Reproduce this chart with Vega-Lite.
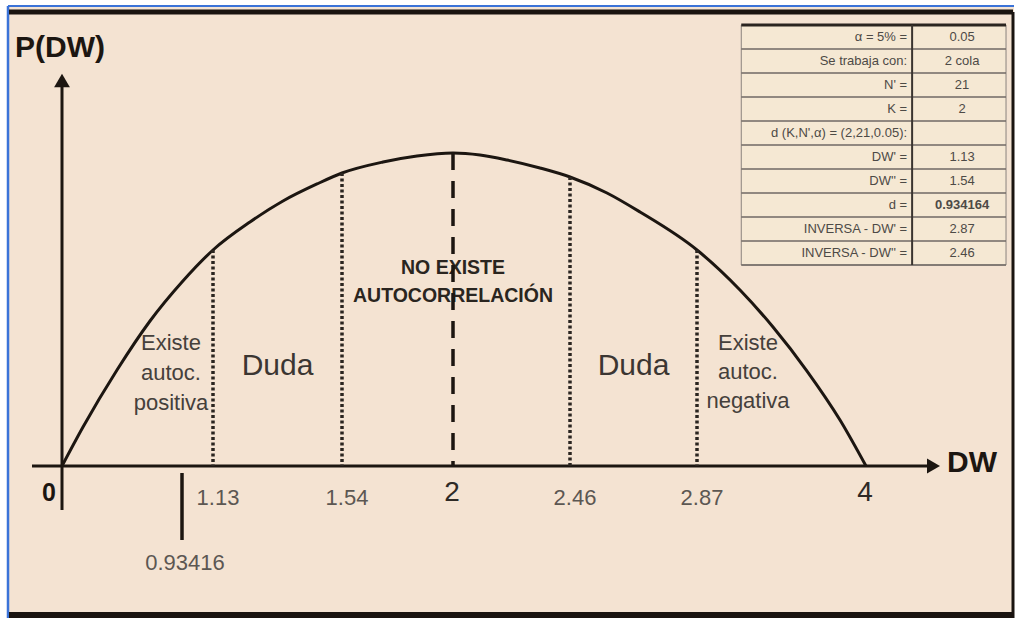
{
  "$schema": "https://vega.github.io/schema/vega-lite/v6.json",
  "width": 1017,
  "height": 621,
  "autosize": {"type": "fit", "contains": "padding"},
  "padding": 0,
  "background": "white",
  "config": {
    "view": {"stroke": null},
    "axis": {"disable": true},
    "legend": {"disable": true},
    "text": {"font": "Liberation Sans"}
  },
  "data": {"values": [{}]},
  "datasets": {
    "curve": [
      {"DW": 0, "P": 0},
      {"DW": 0.1635, "P": 0.1246},
      {"DW": 0.4282, "P": 0.3067},
      {"DW": 0.6851, "P": 0.4633},
      {"DW": 0.93416, "P": 0.5879},
      {"DW": 1.13, "P": 0.6901},
      {"DW": 1.2476, "P": 0.7796},
      {"DW": 1.3525, "P": 0.8466},
      {"DW": 1.4605, "P": 0.901},
      {"DW": 1.54, "P": 0.9361},
      {"DW": 1.7099, "P": 0.9712},
      {"DW": 1.8508, "P": 0.9904},
      {"DW": 2, "P": 1},
      {"DW": 2.1062, "P": 0.9936},
      {"DW": 2.2123, "P": 0.9776},
      {"DW": 2.342, "P": 0.9521},
      {"DW": 2.46, "P": 0.9233},
      {"DW": 2.5794, "P": 0.8722},
      {"DW": 2.686, "P": 0.8115},
      {"DW": 2.87, "P": 0.6901},
      {"DW": 3.1575, "P": 0.5623},
      {"DW": 3.3782, "P": 0.4441},
      {"DW": 3.6055, "P": 0.3035},
      {"DW": 3.8262, "P": 0.147},
      {"DW": 4, "P": 0}
    ],
    "bounds": [
      {"DW": 1.13, "P": 0.6901},
      {"DW": 1.54, "P": 0.9361},
      {"DW": 2.46, "P": 0.9233},
      {"DW": 2.87, "P": 0.6901}
    ],
    "center": [{"DW": 2, "P": 1}],
    "dval": [{"DW": 0.93416}],
    "big": [{"DW": 2}, {"DW": 4}],
    "origin": [{"DW": 0}],
    "table": [
      {"row": 1, "label": "α = 5% =", "value": "0.05"},
      {"row": 2, "label": "Se trabaja con:", "value": "2 cola"},
      {"row": 3, "label": "N' =", "value": "21"},
      {"row": 4, "label": "K =", "value": "2"},
      {"row": 5, "label": "d (K,N',α) = (2,21,0.05):", "value": ""},
      {"row": 6, "label": "DW' =", "value": "1.13"},
      {"row": 7, "label": "DW'' =", "value": "1.54"},
      {"row": 8, "label": "d =", "value": "0.934164"},
      {"row": 9, "label": "INVERSA - DW' =", "value": "2.87"},
      {"row": 10, "label": "INVERSA - DW'' =", "value": "2.46"}
    ]
  },
  "resolve": {"scale": {"x": "independent", "y": "independent"}},
  "layer": [
    {
      "layer": [
        {
          "mark": {"type": "rect", "fill": "#f4e3d2"},
          "encoding": {
            "x": {"datum": -0.4204, "type": "quantitative", "scale": {"type": "linear", "domain": [-0.48265, 0, 0.93416, 1.13, 1.54, 2, 2.46, 2.87, 4, 5.0096], "range": [0, 62, 182, 213, 342, 453, 570, 697, 866, 1017], "zero": false, "nice": false}},
            "x2": {"datum": 4.9896},
            "y": {"datum": 1.4696, "type": "quantitative", "scale": {"domain": [-0.4952, 1.4888], "zero": false, "nice": false}},
            "y2": {"datum": -0.4856}
          }
        },
        {
          "mark": {"type": "rule", "color": "#3b73d8", "strokeWidth": 2.5},
          "encoding": {
            "x": {"datum": -0.4204, "type": "quantitative"},
            "y": {"datum": 1.4696, "type": "quantitative"},
            "y2": {"datum": -0.4856}
          }
        },
        {
          "mark": {"type": "rule", "color": "#3b73d8", "strokeWidth": 2},
          "encoding": {
            "x": {"datum": -0.4204, "type": "quantitative"},
            "x2": {"datum": 4.9896},
            "y": {"datum": 1.4696, "type": "quantitative"}
          }
        },
        {
          "mark": {"type": "rule", "color": "#1a1410", "strokeWidth": 5},
          "encoding": {
            "x": {"datum": -0.4126, "type": "quantitative"},
            "x2": {"datum": 4.9829},
            "y": {"datum": 1.4505, "type": "quantitative"}
          }
        },
        {
          "mark": {"type": "rule", "color": "#1a1410", "strokeWidth": 6},
          "encoding": {
            "x": {"datum": -0.4126, "type": "quantitative"},
            "x2": {"datum": 4.9896},
            "y": {"datum": -0.476, "type": "quantitative"}
          }
        },
        {
          "mark": {"type": "rule", "color": "#1a1410", "strokeWidth": 3},
          "encoding": {
            "x": {"datum": 4.9829, "type": "quantitative"},
            "y": {"datum": 1.4505, "type": "quantitative"},
            "y2": {"datum": -0.4856}
          }
        },
        {
          "mark": {"type": "rule", "color": "#1c1611", "strokeWidth": 3},
          "encoding": {
            "x": {"datum": -0.2335, "type": "quantitative"},
            "x2": {"datum": 4.4279},
            "y": {"datum": 0, "type": "quantitative"}
          }
        },
        {
          "mark": {"type": "rule", "color": "#1c1611", "strokeWidth": 3},
          "encoding": {
            "x": {"datum": 0, "type": "quantitative"},
            "y": {"datum": -0.1406, "type": "quantitative"},
            "y2": {"datum": 1.2141}
          }
        },
        {
          "mark": {"type": "point", "shape": "triangle-up", "filled": true, "color": "#1c1611", "size": 250, "opacity": 1},
          "encoding": {
            "x": {"datum": 0, "type": "quantitative"},
            "y": {"datum": 1.2316, "type": "quantitative"}
          }
        },
        {
          "mark": {"type": "point", "shape": "triangle-right", "filled": true, "color": "#1c1611", "size": 225, "opacity": 1},
          "encoding": {
            "x": {"datum": 4.4513, "type": "quantitative"},
            "y": {"datum": 0, "type": "quantitative"}
          }
        },
        {
          "data": {"name": "dval"},
          "mark": {"type": "rule", "color": "#1c1611", "strokeWidth": 3.5},
          "encoding": {
            "x": {"field": "DW", "type": "quantitative"},
            "y": {"datum": -0.0224, "type": "quantitative"},
            "y2": {"datum": -0.2364}
          }
        },
        {
          "data": {"name": "curve"},
          "mark": {"type": "line", "color": "#1c1611", "strokeWidth": 3, "interpolate": "monotone"},
          "encoding": {
            "x": {"field": "DW", "type": "quantitative"},
            "y": {"field": "P", "type": "quantitative"}
          }
        },
        {
          "data": {"name": "bounds"},
          "mark": {"type": "rule", "color": "#2a2520", "strokeWidth": 3.5, "strokeDash": [3, 2.5]},
          "encoding": {
            "x": {"field": "DW", "type": "quantitative"},
            "y": {"field": "P", "type": "quantitative"},
            "y2": {"datum": 0}
          }
        },
        {
          "data": {"name": "bounds"},
          "mark": {"type": "text", "fontSize": 22, "color": "#5c5752", "align": "center", "baseline": "middle", "dx": 5},
          "encoding": {
            "x": {"field": "DW", "type": "quantitative"},
            "y": {"datum": -0.1022, "type": "quantitative"},
            "text": {"field": "DW", "type": "quantitative", "format": ".2f"}
          }
        },
        {
          "data": {"name": "dval"},
          "mark": {"type": "text", "fontSize": 22, "color": "#5c5752", "align": "center", "baseline": "middle", "dx": 3},
          "encoding": {
            "x": {"field": "DW", "type": "quantitative"},
            "y": {"datum": -0.3099, "type": "quantitative"},
            "text": {"field": "DW", "type": "quantitative", "format": ".5f"}
          }
        },
        {
          "data": {"name": "big"},
          "mark": {"type": "text", "fontSize": 28, "color": "#2e2a26", "align": "center", "baseline": "middle", "dx": -1},
          "encoding": {
            "x": {"field": "DW", "type": "quantitative"},
            "y": {"datum": -0.0863, "type": "quantitative"},
            "text": {"field": "DW", "type": "quantitative", "format": "d"}
          }
        },
        {
          "data": {"name": "origin"},
          "mark": {"type": "text", "fontSize": 25, "fontWeight": "bold", "color": "#1c1611", "align": "center", "baseline": "middle", "dx": -13},
          "encoding": {
            "x": {"field": "DW", "type": "quantitative"},
            "y": {"datum": -0.0863, "type": "quantitative"},
            "text": {"field": "DW", "type": "quantitative", "format": "d"}
          }
        },
        {
          "mark": {"type": "text", "text": "P(DW)", "fontSize": 30, "fontWeight": "bold", "color": "#1c1611", "align": "left", "baseline": "middle"},
          "encoding": {
            "x": {"datum": -0.3659, "type": "quantitative"},
            "y": {"datum": 1.3355, "type": "quantitative"}
          }
        },
        {
          "mark": {"type": "text", "text": "DW", "fontSize": 30, "fontWeight": "bold", "color": "#1c1611", "align": "left", "baseline": "middle"},
          "encoding": {
            "x": {"datum": 4.5416, "type": "quantitative"},
            "y": {"datum": 0.0096, "type": "quantitative"}
          }
        },
        {
          "mark": {"type": "text", "text": "Existe\nautoc.\npositiva", "lineBreak": "\n", "lineHeight": 30, "fontSize": 22, "color": "#45403b", "align": "center", "baseline": "middle"},
          "encoding": {
            "x": {"datum": 0.8485, "type": "quantitative"},
            "y": {"datum": 0.393, "type": "quantitative"}
          }
        },
        {
          "mark": {"type": "text", "text": "Existe\nautoc.\nnegativa", "lineBreak": "\n", "lineHeight": 29, "fontSize": 22, "color": "#45403b", "align": "center", "baseline": "middle"},
          "encoding": {
            "x": {"datum": 3.211, "type": "quantitative"},
            "y": {"datum": 0.393, "type": "quantitative"}
          }
        },
        {
          "mark": {"type": "text", "text": "Duda", "fontSize": 30, "color": "#3b3632", "align": "center", "baseline": "middle"},
          "encoding": {
            "x": {"datum": 1.335, "type": "quantitative"},
            "y": {"datum": 0.3195, "type": "quantitative"}
          }
        },
        {
          "mark": {"type": "text", "text": "Duda", "fontSize": 30, "color": "#3b3632", "align": "center", "baseline": "middle"},
          "encoding": {
            "x": {"datum": 2.665, "type": "quantitative"},
            "y": {"datum": 0.3195, "type": "quantitative"}
          }
        },
        {
          "mark": {"type": "text", "text": "NO EXISTE\nAUTOCORRELACIÓN", "lineBreak": "\n", "lineHeight": 28, "fontSize": 19.5, "fontWeight": "bold", "color": "#2a2520", "align": "center", "baseline": "middle"},
          "encoding": {
            "x": {"datum": 2, "type": "quantitative"},
            "y": {"datum": 0.6326, "type": "quantitative"}
          }
        },
        {
          "data": {"name": "center"},
          "mark": {"type": "rule", "color": "#1c1611", "strokeWidth": 3.5, "strokeDash": [17, 11]},
          "encoding": {
            "x": {"field": "DW", "type": "quantitative"},
            "y": {"field": "P", "type": "quantitative"},
            "y2": {"datum": 0}
          }
        }
      ]
    },
    {
      "layer": [
        {
          "mark": {"type": "rect", "fill": "#f5e8d3", "stroke": "#8a847e", "strokeWidth": 1},
          "encoding": {
            "x": {"datum": 0, "type": "quantitative", "scale": {"domain": [-2.8, 1.0377], "zero": false, "nice": false}},
            "x2": {"datum": 1},
            "y": {"datum": 0.5, "type": "quantitative", "scale": {"domain": [-0.5417, 25.3333], "reverse": true, "zero": false, "nice": false}},
            "y2": {"datum": 10.5}
          }
        },
        {
          "data": {"name": "table"},
          "mark": {"type": "rule", "color": "#6f6964", "strokeWidth": 1.5, "yOffset": 12},
          "encoding": {
            "x": {"datum": 0, "type": "quantitative"},
            "x2": {"datum": 1},
            "y": {"field": "row", "type": "quantitative"}
          }
        },
        {
          "mark": {"type": "rule", "color": "#2a2520", "strokeWidth": 3},
          "encoding": {
            "x": {"datum": 0, "type": "quantitative"},
            "x2": {"datum": 1},
            "y": {"datum": 0.5, "type": "quantitative"}
          }
        },
        {
          "mark": {"type": "rule", "color": "#3a342f", "strokeWidth": 2},
          "encoding": {
            "x": {"datum": 0.6453, "type": "quantitative"},
            "y": {"datum": 0.5, "type": "quantitative"},
            "y2": {"datum": 10.5}
          }
        },
        {
          "data": {"name": "table"},
          "mark": {"type": "text", "fontSize": 13, "color": "#4d4a46", "align": "right", "baseline": "middle"},
          "encoding": {
            "x": {"datum": 0.6264, "type": "quantitative"},
            "y": {"field": "row", "type": "quantitative"},
            "text": {"field": "label", "type": "nominal"}
          }
        },
        {
          "data": {"name": "table"},
          "transform": [{"filter": "datum.row != 8"}],
          "mark": {"type": "text", "fontSize": 13, "color": "#4d4a46", "align": "center", "baseline": "middle"},
          "encoding": {
            "x": {"datum": 0.834, "type": "quantitative"},
            "y": {"field": "row", "type": "quantitative"},
            "text": {"field": "value", "type": "nominal"}
          }
        },
        {
          "data": {"name": "table"},
          "transform": [{"filter": "datum.row == 8"}],
          "mark": {"type": "text", "fontSize": 13, "fontWeight": "bold", "color": "#4d4a46", "align": "center", "baseline": "middle"},
          "encoding": {
            "x": {"datum": 0.834, "type": "quantitative"},
            "y": {"field": "row", "type": "quantitative"},
            "text": {"field": "value", "type": "nominal"}
          }
        }
      ]
    }
  ]
}
